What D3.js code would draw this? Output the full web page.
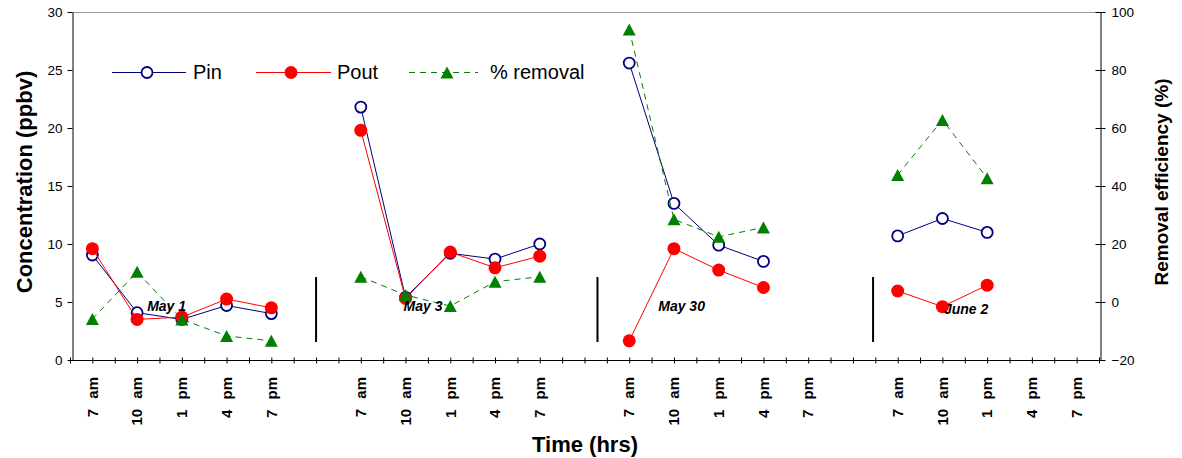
<!DOCTYPE html>
<html>
<head>
<meta charset="utf-8">
<script src="https://cdn.jsdelivr.net/npm/d3@7"></script>
<style>
  body { margin: 0; background: #fff; }
  svg { display: block; font-family: "Liberation Sans", Arial, sans-serif; }
</style>
</head>
<body>
<svg id="chart" width="1182" height="458"></svg>
<script>
// data
const times = ["7 am", "10 am", "1 pm", "4 pm", "7 pm"];
const dates = ["May 1", "May 3", "May 30", "June 2"];
const pin = [9.05, 4.08, 3.5, 4.7, 4.0, null,
             21.8, 5.4, 9.2, 8.7, 10.0, null,
             25.6, 13.5, 9.9, 8.5, null, null,
             10.7, 12.2, 11.0, null, null];
const pout = [9.6, 3.5, 3.7, 5.25, 4.5, null,
              19.8, 5.3, 9.3, 7.95, 8.95, null,
              1.65, 9.6, 7.75, 6.25, null, null,
              5.95, 4.6, 6.45, null, null];
const removal = [-5.9, 10.4, -6.0, -11.7, -13.4, null,
                 8.7, 2.4, -1.4, 7.0, 8.7, null,
                 94.0, 28.5, 22.5, 25.7, null, null,
                 43.8, 62.8, 42.7, null, null];
const leftTicks = [0, 5, 10, 15, 20, 25, 30];
const rightTicks = [-20, 0, 20, 40, 60, 80, 100];

// category slots: 5 times per day, one empty slot between days
const slots = [];
dates.forEach((d, i) => {
    times.forEach(t => slots.push(t));
    if (i < dates.length - 1) slots.push("");
});

const svg = d3.select("#chart");
const pLeft = 72, pRight = 1100, pTop = 12, pBottom = 360;

const x = d3.scaleBand().domain(d3.range(slots.length)).range([70, 1099]);
const cx = i => x(i) + x.bandwidth() / 2;
const xs = d3.scaleLinear().domain([0, slots.length - 1]).range([cx(0), cx(slots.length - 1)]);
const yL = d3.scaleLinear().domain([0, 30]).range([pBottom, pTop]);
const yR = d3.scaleLinear().domain([-20, 100]).range([pBottom, pTop]);

// plot frame top
svg.append("line")
    .attr("x1", pLeft).attr("x2", pRight).attr("y1", pTop + 0.5).attr("y2", pTop + 0.5)
    .attr("stroke", "#999").attr("stroke-width", 1);

// left axis
const gl = svg.append("g")
    .attr("transform", "translate(" + (pLeft + 0.5) + ",0)")
    .call(d3.axisLeft(yL).tickValues(leftTicks).tickSize(5).tickSizeOuter(0).tickPadding(5));
gl.selectAll("text").attr("font-size", "13.5px").attr("fill", "#000")
    .style("font-family", "'Liberation Sans', Arial, sans-serif");

// right axis
const gr = svg.append("g")
    .attr("transform", "translate(" + (pRight + 0.5) + ",0)")
    .call(d3.axisRight(yR).tickValues(rightTicks).tickSize(5).tickSizeOuter(0).tickPadding(6));
gr.selectAll(".tick line").attr("x1", -5);
gr.selectAll("text").attr("font-size", "13.5px").attr("fill", "#000")
    .style("font-family", "'Liberation Sans', Arial, sans-serif");

// bottom axis: tick marks every half slot, labels at slot centres
const halfTicks = d3.range(0, slots.length + 0.01, 0.5);
const xt = d3.scaleLinear().domain([0, slots.length]).range([70, 1099]);
const gb = svg.append("g")
    .attr("transform", "translate(0," + (pBottom + 0.5) + ")")
    .call(d3.axisBottom(xt).tickValues(halfTicks).tickFormat("").tickSize(3).tickSizeOuter(0));
gb.select(".domain").attr("d", "M" + (pLeft - 4) + ",0H" + pRight);
gb.selectAll(".tick line").attr("y1", -3);

svg.append("g").selectAll("text")
    .data(slots.map((s, i) => ({ s, i })).filter(d => d.s !== ""))
    .join("text")
    .attr("transform", d => "translate(" + cx(d.i) + "," + (pBottom + 17) + ") rotate(-90)")
    .attr("text-anchor", "end")
    .attr("dy", "0.35em")
    .attr("font-size", "15px")
    .attr("font-weight", "bold")
    .attr("word-spacing", "6px")
    .text(d => d.s);

// axis titles
svg.append("text")
    .attr("transform", "translate(32,182) rotate(-90)")
    .attr("text-anchor", "middle")
    .attr("font-size", "22px").attr("font-weight", "bold")
    .text("Concentration (ppbv)");
svg.append("text")
    .attr("transform", "translate(1168,182) rotate(-90)")
    .attr("text-anchor", "middle")
    .attr("font-size", "19px").attr("font-weight", "bold")
    .text("Removal efficiency (%)");
svg.append("text")
    .attr("x", 585).attr("y", 452)
    .attr("text-anchor", "middle")
    .attr("font-size", "22px").attr("font-weight", "bold")
    .text("Time (hrs)");

// day separators
const sepSlots = [5.0, 11.29, 17.45];
svg.append("g").selectAll("line")
    .data(sepSlots)
    .join("line")
    .attr("x1", d => xs(d)).attr("x2", d => xs(d))
    .attr("y1", yL(7.15)).attr("y2", yL(1.55))
    .attr("stroke", "#000").attr("stroke-width", 2);

const tri = "M0,-6L6.5,6L-6.5,6Z";

// Pin
const lineL = d3.line().defined(d => d != null).x((d, i) => cx(i)).y(d => yL(d));
svg.append("path").datum(pin)
    .attr("d", lineL)
    .attr("fill", "none").attr("stroke", "#000080").attr("stroke-width", 1);
svg.append("g").selectAll("circle")
    .data(pin.map((v, i) => ({ v, i })).filter(d => d.v != null))
    .join("circle")
    .attr("cx", d => cx(d.i)).attr("cy", d => yL(d.v)).attr("r", 5.5)
    .attr("fill", "#fff").attr("stroke", "#000080").attr("stroke-width", 1.8);

// Pout
svg.append("path").datum(pout)
    .attr("d", lineL)
    .attr("fill", "none").attr("stroke", "#ff0000").attr("stroke-width", 1);
svg.append("g").selectAll("circle")
    .data(pout.map((v, i) => ({ v, i })).filter(d => d.v != null))
    .join("circle")
    .attr("cx", d => cx(d.i)).attr("cy", d => yL(d.v)).attr("r", 6.5)
    .attr("fill", "#ff0000");

// % removal
const lineR = d3.line().defined(d => d != null).x((d, i) => cx(i)).y(d => yR(d));
svg.append("path").datum(removal)
    .attr("d", lineR)
    .attr("fill", "none").attr("stroke", "#008000").attr("stroke-width", 1)
    .attr("stroke-dasharray", "6,5");
svg.append("g").selectAll("path")
    .data(removal.map((v, i) => ({ v, i })).filter(d => d.v != null))
    .join("path")
    .attr("transform", d => "translate(" + cx(d.i) + "," + yR(d.v) + ")")
    .attr("d", tri)
    .attr("fill", "#008000");

// day labels
const datePos = [[1.66, 4.2], [7.39, 4.2], [13.17, 4.2], [19.53, 3.97]];
svg.append("g").selectAll("text")
    .data(dates)
    .join("text")
    .attr("x", (d, i) => xs(datePos[i][0]))
    .attr("y", (d, i) => yL(datePos[i][1]))
    .attr("text-anchor", "middle")
    .attr("font-size", "14px").attr("font-weight", "bold").attr("font-style", "italic")
    .text(d => d);

// legend
const legend = svg.append("g").attr("transform", "translate(0,72.5)");
const items = [
    { name: "Pin", x0: 112, x1: 186, mx: 147, tx: 193, color: "#000080", dash: null, mark: "open" },
    { name: "Pout", x0: 256, x1: 331, mx: 291, tx: 337, color: "#ff0000", dash: null, mark: "dot" },
    { name: "% removal", x0: 409, x1: 478, mx: 447, tx: 490, color: "#008000", dash: "6,5", mark: "tri" }
];
items.forEach(it => {
    legend.append("line")
        .attr("x1", it.x0).attr("x2", it.x1)
        .attr("stroke", it.color).attr("stroke-width", 1)
        .attr("stroke-dasharray", it.dash);
    if (it.mark === "open") {
        legend.append("circle").attr("cx", it.mx).attr("r", 5.5)
            .attr("fill", "#fff").attr("stroke", it.color).attr("stroke-width", 1.8);
    } else if (it.mark === "dot") {
        legend.append("circle").attr("cx", it.mx).attr("r", 6.5).attr("fill", it.color);
    } else {
        legend.append("path").attr("transform", "translate(" + it.mx + ",0)")
            .attr("d", tri).attr("fill", it.color);
    }
    legend.append("text")
        .attr("x", it.tx).attr("y", 6.5)
        .attr("font-size", "20px")
        .text(it.name);
});
</script>
</body>
</html>
